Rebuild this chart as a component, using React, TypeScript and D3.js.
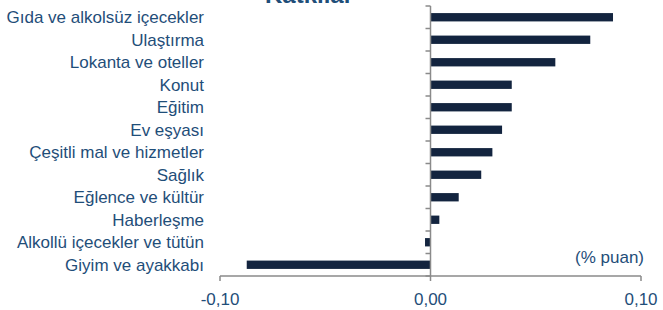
import React from 'react';
import * as d3 from 'd3';

// contributions, % points
const categories = [
  'Gıda ve alkolsüz içecekler',
  'Ulaştırma',
  'Lokanta ve oteller',
  'Konut',
  'Eğitim',
  'Ev eşyası',
  'Çeşitli mal ve hizmetler',
  'Sağlık',
  'Eğlence ve kültür',
  'Haberleşme',
  'Alkollü içecekler ve tütün',
  'Giyim ve ayakkabı',
];
const values = [0.0867, 0.0759, 0.0593, 0.0386, 0.0386, 0.034, 0.0294, 0.0241, 0.0134, 0.0042, -0.0026, -0.0873];
const xTicks = [-0.1, 0, 0.1];
const title = 'Katkılar';
const unitLabel = '(% puan)';

const W = 663;
const H = 310;
const font = '"Liberation Sans", Arial, sans-serif';
const textColor = '#1f4e79';
const barColor = '#13243f';
const axisColor = '#8a8a8a';

const App = () => {
  const x = d3.scaleLinear().domain([-0.1, 0.1]).range([220, 641]);
  const y = d3.scaleBand().domain(categories).range([6, 276]).paddingInner(0.63).paddingOuter(0.315);
  const step = y.step();
  // excel style: plain hyphen, decimal comma
  const fmt = (v: number) => d3.format('.2f')(v).replace('\u2212', '-').replace('.', ',');

  return (
    <svg width={W} height={H} style={{ position: 'absolute', left: 0, top: 0, fontFamily: font }}>
      <text x={309} y={3} textAnchor="middle" fontSize={24} fontWeight="bold" fill={textColor}>
        {title}
      </text>

      {categories.map((c, i) => {
        const v = values[i];
        return (
          <rect
            key={c}
            x={x(Math.min(0, v))}
            y={y(c)}
            width={Math.abs(x(v) - x(0))}
            height={y.bandwidth()}
            fill={barColor}
          />
        );
      })}

      {/* category axis at zero */}
      <line x1={x(0)} x2={x(0)} y1={6} y2={276} stroke={axisColor} strokeWidth={1.5} />
      {d3.range(categories.length + 1).map((i) => (
        <line key={i} x1={x(0) - 5} x2={x(0)} y1={6 + i * step} y2={6 + i * step} stroke={axisColor} strokeWidth={1.5} />
      ))}

      {/* value axis */}
      <line x1={x(-0.1)} x2={x(0.1)} y1={276} y2={276} stroke={axisColor} strokeWidth={1.5} />
      {xTicks.map((t) => (
        <g key={t}>
          <line x1={x(t)} x2={x(t)} y1={276} y2={281} stroke={axisColor} strokeWidth={1.5} />
          <text x={x(t)} y={305} textAnchor="middle" fontSize={17} fill={textColor}>
            {fmt(t)}
          </text>
        </g>
      ))}

      {categories.map((c) => (
        <text key={c} x={204} y={(y(c) ?? 0) + y.bandwidth() / 2} dy="0.36em" textAnchor="end" fontSize={17} fill={textColor}>
          {c}
        </text>
      ))}

      <text x={644} y={263} textAnchor="end" fontSize={17} fill={textColor}>
        {unitLabel}
      </text>
    </svg>
  );
};

export default App;
